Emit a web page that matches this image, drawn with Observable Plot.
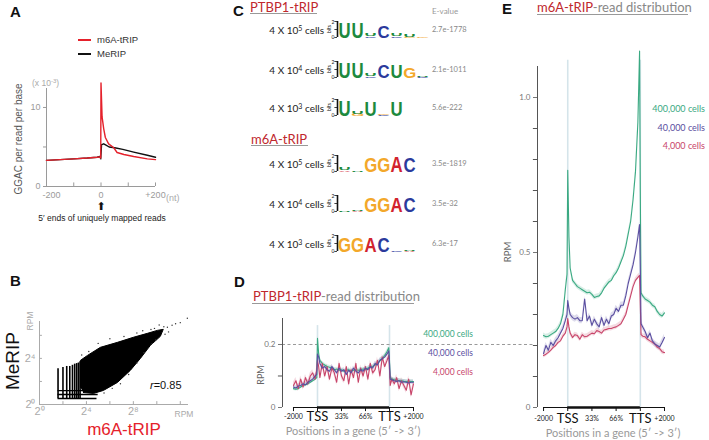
<!DOCTYPE html>
<html><head><meta charset="utf-8">
<script src="https://cdn.jsdelivr.net/npm/d3@7"></script>
<script src="https://cdn.jsdelivr.net/npm/@observablehq/plot@0.6"></script>
<style>
body{margin:0;background:#fff;}
#root{position:relative;width:709px;height:440px;overflow:hidden;font-family:Lato,sans-serif;background:#fff;}
.lbl{position:absolute;white-space:nowrap;line-height:1;}
.lbl sup{font-size:0.7em;vertical-align:0.5em;line-height:0;}
.hl{position:absolute;height:0;}
</style></head><body><div id="root"></div>
<script>
// ---------------- DATA ----------------
// Panel A: GGAC per read per base (x10^-3) around 5' ends of reads
const ntM6A = [-200,-150,-100,-50,-14,-4,-1,0,4,10,16,28,47,59,84,120,170,200];
const valM6A = [3.3,3.4,3.5,3.6,3.7,3.75,3.6,13.1,8.8,7.3,6.2,5.4,4.9,4.3,4.05,3.8,3.5,3.4];
const ntMeRIP = [-200,-150,-100,-50,-14,-4,-1,2,10,20,30,50,80,120,170,200];
const valMeRIP = [3.3,3.4,3.5,3.6,3.7,3.8,3.5,5.3,5.4,5.2,5.0,4.9,4.7,4.35,3.95,3.7];
const ticksA = [-200,-100,0,100,200];

// Panel B: log2 RPM scatter (dense cloud outline, discrete stripes, outliers)
const cloudX = [3.49,3.49,4.09,5.19,6.64,8.0,9.19,10.04,10.55,10.3,9.45,8.6,7.74,6.64,5.45,4.6,3.74];
const cloudY = [1.48,3.83,4.26,4.96,5.39,5.83,6.17,6.43,6.52,5.91,5.13,4.0,2.96,1.91,1.22,0.96,1.04];
const stripeX = [1.58,2,2.32,2.58,2.81,3,3.17,3.32,3.46];
const stripeTop = [3.1,3.2,3.3,3.3,3.4,3.5,3.55,3.6,3.7];
const stripeBottom = [0.5,0.5,0.5,0.5,0.5,0.5,0.5,0.5,0.5];
const rowY = [0.52,0.87,1.2];
const rowXEnd = [4.9,5.0,5.2];
const outX = [10.9,11.3,12.6,10.6,9.8,9.5,11.0,10.7,9.9,9.6,8.9,8.3,7.6,6.9,6.2,5.5,4.2,3.6,5.0,6.0,7.2,8.3,11.6,12.0,10.2,8.8];
const outY = [6.7,6.87,7.48,6.75,6.6,6.5,6.3,6.1,5.6,5.3,4.5,3.6,2.6,1.8,1.4,1.0,4.6,4.3,5.3,5.7,5.9,6.2,7.0,7.1,6.9,6.4];

// Panel C: motif logos (columns of [letter, bits], bottom to top)
const cellExp = [5,4,3];
const evaluesPTBP1 = ["2.7e-1778","2.1e-1011","5.6e-222"];
const evaluesM6A = ["3.5e-1819","3.5e-32","6.3e-17"];
const logoPTBP1 = [
 [[["U",1.9]],[["U",1.9]],[["C",0.15],["U",0.35]],[["C",1.5]],[["C",0.15],["U",0.3]],[["G",0.12],["U",0.25]],[["G",0.1]]],
 [[["U",1.9]],[["U",1.9]],[["C",0.2],["U",0.35]],[["C",1.6]],[["U",1.6]],[["G",1.3]],[["C",0.08],["U",0.1]]],
 [[["U",1.9]],[["G",0.25],["U",0.35]],[["U",1.85]],[["C",0.12],["G",0.15]],[["U",1.85]]]
];
const logoM6A = [
 [[["A",0.15],["U",0.25]],[["U",0.1]],[["G",1.75]],[["G",1.75]],[["A",1.9]],[["C",1.85]]],
 [[["U",0.12]],[["A",0.1],["U",0.1]],[["G",1.75]],[["G",1.75]],[["A",1.85]],[["C",1.85]]],
 [[["G",1.8]],[["G",1.8]],[["A",1.85]],[["C",1.85]],[["C",0.15]],[["A",0.1],["U",0.1]]]
];
const letterColors = {U:"#1d8a3e",C:"#2b3a9c",G:"#f3a82a",A:"#d2232e"};

// Panels D and E: read distribution (RPM) along gene positions
// position units: 0=-2000, 1=TSS, 2=33%, 3=66%, 4=TTS, 5=+2000
const posU = [0,0.1,0.2,0.3,0.4,0.5,0.6,0.7,0.8,0.9,0.97,1,1.05,1.1,1.2,1.3,1.4,1.5,1.6,1.7,1.8,1.9,2,2.1,2.2,2.3,2.4,2.5,2.6,2.7,2.8,2.9,3,3.1,3.2,3.3,3.4,3.5,3.6,3.7,3.8,3.9,3.97,4,4.03,4.1,4.2,4.3,4.4,4.5,4.6,4.7,4.8,4.9,5];
const posTicks = [0,1,2,3,4,5];
const posLabels = ["-2000","TSS","33%","66%","TTS","+2000"];
const seriesNames = ["400,000 cells","40,000 cells","4,000 cells"];
const seriesColors = ["#3aa982","#5a4ea0","#c8456a"];
const dGreen = [0.06,0.058,0.06,0.065,0.07,0.072,0.075,0.08,0.085,0.09,0.095,0.22,0.17,0.15,0.14,0.135,0.13,0.128,0.125,0.12,0.122,0.118,0.12,0.115,0.118,0.12,0.115,0.118,0.12,0.118,0.12,0.122,0.12,0.125,0.128,0.13,0.135,0.14,0.148,0.155,0.165,0.178,0.19,0.15,0.095,0.09,0.088,0.087,0.085,0.085,0.083,0.082,0.083,0.082,0.082];
const dPurple = [0.065,0.062,0.068,0.07,0.075,0.072,0.08,0.085,0.09,0.1,0.105,0.17,0.16,0.14,0.125,0.13,0.12,0.115,0.13,0.12,0.11,0.125,0.115,0.12,0.105,0.118,0.11,0.125,0.115,0.11,0.12,0.115,0.125,0.12,0.13,0.125,0.14,0.135,0.15,0.155,0.16,0.17,0.18,0.14,0.09,0.088,0.085,0.083,0.085,0.08,0.082,0.08,0.078,0.08,0.08];
const dRed = [0.07,0.085,0.06,0.09,0.065,0.095,0.075,0.1,0.11,0.09,0.12,0.15,0.13,0.095,0.14,0.1,0.13,0.09,0.125,0.11,0.08,0.14,0.1,0.085,0.13,0.075,0.12,0.095,0.14,0.08,0.125,0.1,0.13,0.09,0.14,0.11,0.12,0.15,0.1,0.16,0.13,0.15,0.165,0.12,0.07,0.09,0.075,0.095,0.06,0.085,0.07,0.055,0.09,0.04,0.075];
const bandD = [0.006,0.007,0.01];
const eGreen = [0.232,0.228,0.23,0.235,0.24,0.245,0.255,0.27,0.3,0.38,0.43,0.765,0.55,0.45,0.41,0.4,0.39,0.385,0.38,0.375,0.37,0.372,0.365,0.355,0.358,0.36,0.37,0.385,0.395,0.405,0.41,0.425,0.435,0.45,0.47,0.49,0.52,0.56,0.6,0.67,0.76,0.92,1.15,0.7,0.37,0.36,0.35,0.345,0.34,0.33,0.325,0.31,0.3,0.295,0.305];
const ePurple = [0.174,0.2,0.185,0.21,0.2,0.215,0.225,0.24,0.255,0.28,0.3,0.345,0.32,0.3,0.29,0.285,0.29,0.28,0.28,0.35,0.28,0.295,0.265,0.285,0.27,0.26,0.29,0.265,0.285,0.27,0.295,0.3,0.32,0.31,0.33,0.33,0.36,0.4,0.43,0.46,0.5,0.55,0.59,0.45,0.27,0.26,0.245,0.225,0.24,0.215,0.205,0.2,0.195,0.21,0.226];
const eRed = [0.168,0.172,0.178,0.185,0.194,0.2,0.21,0.215,0.23,0.24,0.26,0.287,0.26,0.24,0.226,0.235,0.232,0.22,0.235,0.228,0.23,0.235,0.24,0.238,0.248,0.245,0.24,0.25,0.252,0.255,0.255,0.258,0.26,0.265,0.27,0.285,0.3,0.33,0.36,0.39,0.41,0.42,0.426,0.33,0.235,0.23,0.228,0.22,0.215,0.21,0.205,0.195,0.19,0.18,0.177];
const bandE = [0.008,0.01,0.008];

// ---------------- HELPERS ----------------
const W = 709, H = 440;
const root = document.getElementById("root");
function fr(x0,x1,y0,y1,ff){
  return {width:W,height:H,marginLeft:x0,marginRight:W-x1,marginTop:y0,marginBottom:H-y1,
    style:{background:"transparent",overflow:"visible",fontFamily:ff||"Lato, sans-serif",position:"absolute",left:"0px",top:"0px",maxWidth:"none"}};
}
function add(svg){svg.style.position="absolute";svg.style.left="0px";svg.style.top="0px";root.appendChild(svg);return svg;}
function lbl(html,x,y,o={}){
  const d=document.createElement("div");d.className="lbl";d.innerHTML=html;
  const ax=o.anchor==="end"?-100:o.anchor==="middle"?-50:0;
  d.style.left=x+"px";d.style.top=y+"px";
  d.style.transform=`translate(${ax}%,-50%)`+(o.rotate?` rotate(${o.rotate}deg)`:"");
  d.style.fontSize=(o.size||10)+"px";
  d.style.color=o.color||"#222";
  if(o.weight)d.style.fontWeight=o.weight;
  if(o.family)d.style.fontFamily=o.family;
  root.appendChild(d);return d;
}
function hline(x0,x1,y,color,w){
  const d=document.createElement("div");d.className="hl";
  d.style.left=x0+"px";d.style.width=(x1-x0)+"px";d.style.top=(y-(w||1.5)/2)+"px";
  d.style.borderTop=`${w||1.5}px solid ${color}`;root.appendChild(d);
}
const ARIAL="Liberation Sans, Arial, sans-serif";

// ---------------- PANEL A ----------------
const ptsM6A = ntM6A.map((x,i)=>({x,y:valM6A[i]}));
const ptsMeRIP = ntMeRIP.map((x,i)=>({x,y:valMeRIP[i]}));
add(Plot.plot({...fr(46,155,88,186,ARIAL),
  x:{domain:[-200,200],axis:null,label:null}, y:{domain:[0,12.4],axis:null,label:null},
  marks:[
    Plot.ruleY([0],{stroke:"#9a9a9a"}),
    Plot.ruleX([-200],{stroke:"#9a9a9a"}),
    Plot.ruleX(ticksA,{y1:0,y2:0.45,stroke:"#9a9a9a"}),
    Plot.ruleY([5],{x1:-211,x2:-200,stroke:"#9a9a9a"}),
    Plot.axisY({ticks:[0,10],tickSize:3,tickPadding:3,fontSize:9,color:"#9a9a9a",label:null}),
    Plot.axisX({ticks:[-200],tickFormat:d=>String(d),tickSize:0,tickPadding:5,dx:5,fontSize:9,color:"#9a9a9a",label:null}),
    Plot.axisX({ticks:[0,200],tickFormat:d=>d>0?"+"+d:String(d),tickSize:0,tickPadding:5,fontSize:9,color:"#9a9a9a",label:null}),
    Plot.line(ptsMeRIP,{x:"x",y:"y",stroke:"#111",strokeWidth:1.4}),
    Plot.line(ptsM6A,{x:"x",y:"y",stroke:"#e5212b",strokeWidth:1.4})
  ]}));
lbl("A",10,11,{size:15,weight:"bold",family:ARIAL,color:"#111"});
hline(78,91,40,"#e5212b",2);
lbl("m6A-tRIP",97,40,{size:9.5,family:ARIAL,color:"#333"});
hline(78,91,54,"#111",2);
lbl("MeRIP",97,54,{size:9.5,family:ARIAL,color:"#333"});
lbl("(x 10<sup>-3</sup>)",32,83,{size:8.5,family:ARIAL,color:"#aaa"});
lbl("GGAC per read per base",19,139,{anchor:"middle",rotate:-90,size:10,family:ARIAL,color:"#555"});
lbl("(nt)",166,198,{size:9,family:ARIAL,color:"#aaa"});
lbl("⬆",101,206,{anchor:"middle",size:11,family:"DejaVu Sans",color:"#111"});
lbl("5′ ends of uniquely mapped reads",102,218,{anchor:"middle",size:8.5,family:ARIAL,color:"#222"});

// ---------------- PANEL B ----------------
const sup = {0:"⁰",2:"²",4:"⁴",6:"⁶",8:"⁸"};
const cloud = cloudX.map((x,i)=>({x,y:cloudY[i]}));
const stripes = stripeX.map((x,i)=>({x,y1:stripeBottom[i],y2:stripeTop[i]}));
const rows = rowY.map((y,i)=>({y,x1:1.58,x2:rowXEnd[i]}));
const outs = outX.map((x,i)=>({x,y:outY[i]}));
add(Plot.plot({...fr(39,188,321,404,ARIAL),
  x:{domain:[0,12.7],axis:null,label:null}, y:{domain:[0,7.2],axis:null,label:null},
  marks:[
    Plot.line(cloud,{x:"x",y:"y",fill:"#000",stroke:"#000",strokeWidth:1}),
    Plot.ruleX(stripes,{x:"x",y1:"y1",y2:"y2",stroke:"#000",strokeWidth:1.6}),
    Plot.ruleY(rows,{y:"y",x1:"x1",x2:"x2",stroke:"#000",strokeWidth:1.4}),
    Plot.dot(outs,{x:"x",y:"y",r:0.7,fill:"#333"}),
    Plot.ruleY([0],{stroke:"#aaa"}),
    Plot.ruleX([0],{stroke:"#aaa"}),
    Plot.ruleX([2,4,6,8,10,12],{y1:0,y2:0.25,stroke:"#aaa"}),
    Plot.ruleY([2,4,6],{x1:0,x2:0.25,stroke:"#aaa"}),
    Plot.axisX({ticks:[0,4,8],tickFormat:d=>"2"+sup[d],tickSize:0,tickPadding:3,fontSize:11,color:"#aaa",label:null}),
    Plot.axisY({ticks:[0,4],tickFormat:d=>"2"+sup[d],tickSize:0,tickPadding:4,fontSize:11,color:"#aaa",label:null})
  ]}));
lbl("B",10,280,{size:15,weight:"bold",family:ARIAL,color:"#111"});
lbl("RPM",30,321,{anchor:"middle",rotate:-90,size:8.5,family:ARIAL,color:"#aaa"});
lbl("RPM",184,414,{anchor:"middle",size:8.5,family:ARIAL,color:"#aaa"});
lbl("MeRIP",12,361,{anchor:"middle",rotate:-90,size:19,family:ARIAL,color:"#111"});
lbl("m6A-tRIP",124,429,{anchor:"middle",size:17,family:ARIAL,color:"#e5212b"});
lbl("<i>r</i>=0.85",150,385,{size:11,family:ARIAL,color:"#111"});

// ---------------- PANEL C ----------------
const rowYC = {ptbp1:[30,70,108], m6a:[164,204,244]};
function logo(cols,yc){
  const letters=[];
  cols.forEach((col,ci)=>{let y0=0;col.forEach(([L,h])=>{letters.push({x:ci+0.55,y:y0,L,h});y0+=h;});});
  const fs=15, pxPerBit=8;
  const svg=add(Plot.plot({...fr(337,441,yc-9,yc+7,ARIAL),
    x:{domain:[0,8],axis:null,label:null}, y:{domain:[0,2],axis:null,label:null},
    marks:[
      Plot.ruleX([0],{y1:0,y2:2,stroke:"#111",strokeWidth:1.6}),
      Plot.ruleY([0,1,2],{x1:-0.2,x2:0,stroke:"#111",strokeWidth:0.8}),
      Plot.text(letters,{x:"x",y:"y",text:"L",fill:d=>letterColors[d.L],fontSize:fs,fontWeight:"bold",fontFamily:ARIAL,textAnchor:"middle",lineAnchor:"bottom"})
    ]}));
  const xs=svg.scale("x"), ys=svg.scale("y");
  const g=svg.querySelector('g[aria-label="text"]');
  const capH=0.716*fs;
  g.querySelectorAll("text").forEach((el,k)=>{
    const L=letters[k]; if(!L) return;
    const sy=Math.max(L.h*pxPerBit,0.5)/capH;
    el.removeAttribute("x");el.removeAttribute("y");el.removeAttribute("dy");
    el.setAttribute("transform",`translate(${xs.apply(L.x)},${ys.apply(L.y)}) scale(1.12,${sy})`);
  });
  lbl("bits",329,yc-1,{anchor:"middle",rotate:-90,size:5,color:"#111"});
  lbl("2",333,yc-8,{anchor:"middle",size:5,color:"#111"});
  lbl("0",333,yc+7,{anchor:"middle",size:5,color:"#111"});
}
lbl("C",233,10,{size:15,weight:"bold",family:ARIAL,color:"#111"});
lbl("PTBP1-tRIP",250,7,{size:13,color:"#c0272d"});
hline(250,317,14,"#999",1.5);
lbl("E-value",432,11,{size:8,color:"#999"});
lbl("m6A-tRIP",251,139,{size:13,color:"#c0272d"});
hline(251,308,146,"#999",1.5);
cellExp.forEach((e,i)=>{
  lbl(`4 X 10<sup>${e}</sup> cells`,324,rowYC.ptbp1[i],{anchor:"end",size:10,color:"#222"});
  lbl(evaluesPTBP1[i],432,rowYC.ptbp1[i],{size:7.5,color:"#888"});
  logo(logoPTBP1[i],rowYC.ptbp1[i]);
  lbl(`4 X 10<sup>${e}</sup> cells`,324,rowYC.m6a[i],{anchor:"end",size:10,color:"#222"});
  lbl(evaluesM6A[i],432,rowYC.m6a[i],{size:7.5,color:"#888"});
  logo(logoM6A[i],rowYC.m6a[i]);
});

// ---------------- PANELS D & E ----------------
function profile(f,xdom,ydom,vals,bands,o){
  const sets=vals.map((arr,s)=>posU.map((u,i)=>({u,v:arr[i],lo:arr[i]-bands[s],hi:arr[i]+bands[s]})));
  const order=[0,2,1];
  const marks=[
    Plot.ruleX([1,4],{y1:0,y2:o.vTop,stroke:"#d5e4ea",strokeWidth:1.6}),
    ...(o.dash?[Plot.ruleY([0.2],{x1:xdom[0],x2:o.dash,stroke:"#999",strokeDasharray:"3,2.5"})]:[]),
  ];
  order.forEach(s=>marks.push(Plot.areaY(sets[s],{x:"u",y1:"lo",y2:"hi",fill:seriesColors[s],fillOpacity:0.2})));
  order.forEach(s=>marks.push(Plot.line(sets[s],{x:"u",y:"v",stroke:seriesColors[s],strokeWidth:1.1})));
  marks.push(
    Plot.ruleX([xdom[0]],{y1:0,y2:ydom[1],stroke:"#555",strokeWidth:1}),
    Plot.ruleY(o.yMinor,{x1:xdom[0]-o.tickX,x2:xdom[0],stroke:"#555"}),
    Plot.axisY({ticks:o.yTicks,tickFormat:o.yFmt,tickSize:4,tickPadding:3,fontSize:8,color:"#777",label:null}),
    Plot.ruleY([0],{x1:0,x2:5,stroke:"#111",strokeWidth:1}),
    Plot.ruleY([0],{x1:1,x2:4,stroke:"#111",strokeWidth:2.4}),
    Plot.ruleX(posTicks,{y1:0,y2:-o.tickY,stroke:"#111"}),
    Plot.axisX({ticks:[0,2,3,5],tickFormat:d=>posLabels[d],tickSize:0,tickPadding:o.padS,fontSize:7,color:"#222",label:null}),
    Plot.axisX({ticks:[1,4],tickFormat:d=>posLabels[d],tickSize:0,tickPadding:o.padL,fontSize:13,color:"#111",label:null})
  );
  add(Plot.plot({...f,x:{domain:xdom,axis:null,label:null},y:{domain:ydom,axis:null,label:null},marks}));
}
profile(fr(282,413,318,407),[-0.458,5],[0,0.2825],[dGreen,dPurple,dRed],bandD,
  {vTop:0.26,dash:10.08,yTicks:[0,0.2],yMinor:[0.1],yFmt:d=>String(d),tickX:0.17,tickY:0.013,padS:7,padL:4});
profile(fr(537,664,66,407),[-0.25,5],[0,1.1],[eGreen,ePurple,eRed],bandE,
  {vTop:1.12,yTicks:[0,0.5,1.0],yMinor:[0.1,0.2,0.3,0.4,0.6,0.7,0.8,0.9],yFmt:d=>d===1?"1.0":String(d),tickX:0.17,tickY:0.013,padS:9,padL:6});

lbl("D",234,281,{size:15,weight:"bold",family:ARIAL,color:"#111"});
lbl('<span style="color:#c0272d">PTBP1-tRIP</span><span style="color:#888">-read distribution</span>',253,296,{size:13});
hline(252,414,304,"#999",1.5);
lbl("RPM",260,375,{anchor:"middle",rotate:-90,size:9,color:"#666"});
lbl("Positions in a gene (5′ -&gt; 3′)",353,430,{anchor:"middle",size:11,color:"#999"});
lbl("E",502,8,{size:15,weight:"bold",family:ARIAL,color:"#111"});
lbl('<span style="color:#c0272d">m6A-tRIP</span><span style="color:#888">-read distribution</span>',537,7,{size:13});
hline(537,688,15,"#999",1.5);
lbl("RPM",508,252,{anchor:"middle",rotate:-90,size:9.5,color:"#666"});
lbl("Positions in a gene (5′ -&gt; 3′)",613,432,{anchor:"middle",size:11,color:"#999"});
const legYD=[334,353,372], legYE=[108,127,145];
seriesNames.forEach((n,i)=>{
  lbl(n,473,legYD[i],{anchor:"end",size:8.5,color:seriesColors[i]});
  lbl(n,705,legYE[i],{anchor:"end",size:9,color:seriesColors[i]});
});
</script></body></html>
